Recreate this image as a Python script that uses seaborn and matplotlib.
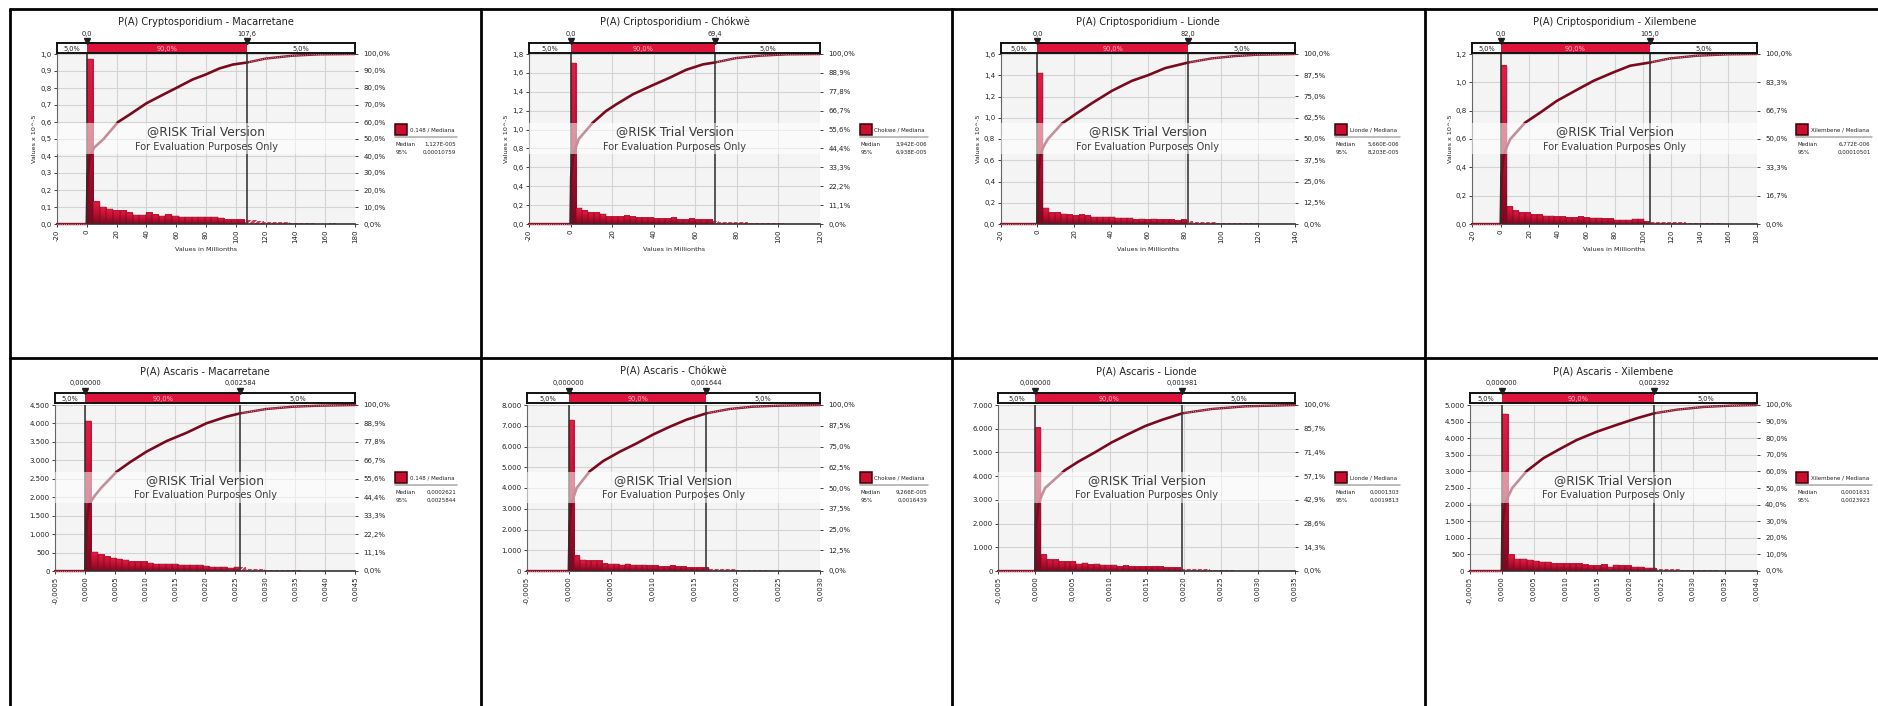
import numpy as np
import pandas as pd
import matplotlib
matplotlib.use("Agg")
import matplotlib.pyplot as plt
import seaborn as sns
from matplotlib.colors import LinearSegmentedColormap
from matplotlib.lines import Line2D
from matplotlib.patches import Rectangle

titles = ["P(A) Cryptosporidium - Macarretane", "P(A) Criptosporidium - Chókwè",
          "P(A) Criptosporidium - Lionde", "P(A) Criptosporidium - Xilembene",
          "P(A) Ascaris - Macarretane", "P(A) Ascaris - Chókwè",
          "P(A) Ascaris - Lionde", "P(A) Ascaris - Xilembene"]
legend_names = ["0.148 / Mediana", "Chokwe / Mediana", "Lionde / Mediana", "Xilembene / Mediana",
                "0.148 / Mediana", "Chokwe / Mediana", "Lionde / Mediana", "Xilembene / Mediana"]
median_text = ["1,127E-005", "3,942E-006", "5,660E-006", "6,772E-006",
               "0,0002621", "9,266E-005", "0,0001303", "0,0001631"]
p95_text = ["0,00010759", "6,938E-005", "8,203E-005", "0,00010501",
            "0,0025844", "0,0016439", "0,0019813", "0,0023923"]
p5_labels = ["0,0", "0,0", "0,0", "0,0", "0,000000", "0,000000", "0,000000", "0,000000"]
p95_labels = ["107,6", "69,4", "82,0", "105,0", "0,002584", "0,001644", "0,001981", "0,002392"]
p5_values = [0, 0, 0, 0, 0, 0, 0, 0]
p95_values = [107.6, 69.4, 82.0, 105.0, 0.0025844, 0.0016439, 0.0019813, 0.0023923]

x_min = [-20, -20, -20, -20, -0.0005, -0.0005, -0.0005, -0.0005]
x_max = [180, 120, 140, 180, 0.0045, 0.003, 0.0035, 0.004]
x_step = [20, 20, 20, 20, 0.0005, 0.0005, 0.0005, 0.0005]
y_max = [1.0, 1.8, 1.6, 1.2, 4500, 8000, 7000, 5000]
y_step = [0.1, 0.2, 0.2, 0.2, 500, 1000, 1000, 500]
bin_width = [4.4, 2.85, 3.26, 4.2, 0.000103, 0.0000668, 0.0000786, 0.0000968]

# Histogrammhöhen (Balken ab 0)
h_crypto_mac = [0.97, 0.13, 0.10, 0.087, 0.077, 0.077, 0.065, 0.052, 0.052, 0.065, 0.053, 0.047, 0.053,
                0.045, 0.039, 0.039, 0.039, 0.039, 0.039, 0.039, 0.034, 0.024, 0.024, 0.024, 0.024, 0.022,
                0.016, 0.012, 0.010, 0.010, 0.009, 0.008, 0.007, 0.005, 0.004, 0.002, 0.002, 0.004, 0.001]
h_crypto_cho = [1.70, 0.167, 0.142, 0.117, 0.117, 0.103, 0.075, 0.075, 0.075, 0.085, 0.075, 0.064, 0.064,
                0.064, 0.053, 0.053, 0.053, 0.064, 0.043, 0.043, 0.053, 0.043, 0.043, 0.043, 0.028, 0.025,
                0.022, 0.020, 0.018, 0.016, 0.015, 0.013, 0.012, 0.010, 0.008, 0.006, 0.005, 0.004, 0.003,
                0.002, 0.002]
h_crypto_lio = [1.42, 0.148, 0.104, 0.104, 0.092, 0.085, 0.076, 0.085, 0.076, 0.063, 0.063, 0.063, 0.063,
                0.054, 0.054, 0.054, 0.041, 0.047, 0.038, 0.047, 0.038, 0.038, 0.038, 0.032, 0.038, 0.025,
                0.020, 0.018, 0.016, 0.015, 0.013, 0.012, 0.010, 0.008, 0.007, 0.006, 0.005, 0.004, 0.003,
                0.002, 0.002]
h_crypto_xil = [1.117, 0.121, 0.095, 0.080, 0.080, 0.064, 0.064, 0.054, 0.054, 0.050, 0.050, 0.043, 0.043,
                0.050, 0.043, 0.040, 0.040, 0.036, 0.036, 0.028, 0.028, 0.028, 0.033, 0.033, 0.017, 0.017,
                0.015, 0.014, 0.013, 0.012, 0.011, 0.010, 0.008, 0.007, 0.006, 0.005, 0.004, 0.003, 0.002,
                0.002]
h_asc_mac = [4065, 515, 434, 388, 352, 325, 298, 244, 244, 244, 208, 181, 181, 181, 181, 154, 154, 154, 154,
             126, 99, 99, 99, 72, 99, 99, 60, 50, 45, 40, 35, 30, 22, 18, 15, 12, 10, 8, 6, 5, 4]
h_asc_cho = [7261, 723, 530, 482, 482, 482, 353, 321, 321, 289, 337, 289, 289, 289, 241, 241, 193, 193, 241,
             193, 193, 145, 145, 145, 145, 110, 100, 90, 80, 75, 65, 55, 45, 35, 30, 25, 18, 14, 10, 7, 5]
h_asc_lio = [6044, 675, 464, 464, 380, 380, 380, 295, 337, 267, 295, 253, 253, 253, 183, 211, 183, 169, 169,
             169, 169, 169, 127, 127, 127, 100, 90, 80, 70, 65, 55, 40, 32, 25, 20, 15, 10, 6]
h_asc_xil = [4719, 482, 361, 361, 331, 301, 271, 271, 211, 211, 211, 211, 211, 181, 151, 151, 181, 120, 171,
             151, 151, 120, 120, 80, 80, 70, 60, 55, 50, 45, 40, 35, 30, 25, 20, 15, 12, 10, 8, 5]

# Kumulative Kurven (x, Anteil)
cdf_x_crypto_mac = [-20, 0, 0.5, 2.0, 5.0, 11.27, 21, 29, 40, 51, 60, 71, 80, 89, 98, 107.6, 120, 138, 156, 180]
cdf_y_crypto_mac = [0, 0, 0.28, 0.40, 0.45, 0.50, 0.60, 0.645, 0.71, 0.76, 0.80, 0.85, 0.88, 0.915, 0.938,
                    0.95, 0.973, 0.99, 0.998, 1.0]
cdf_x_crypto_cho = [-20, 0, 0.3, 1.2, 2.5, 3.942, 10.7, 17.1, 22, 30, 39.6, 47.6, 55.6, 63.7, 69.4, 79.7, 91,
                    104, 120]
cdf_y_crypto_cho = [0, 0, 0.28, 0.40, 0.45, 0.50, 0.596, 0.665, 0.704, 0.763, 0.817, 0.86, 0.907, 0.939, 0.95,
                    0.976, 0.99, 0.998, 1.0]
cdf_x_crypto_lio = [-20, 0, 0.4, 1.5, 3.0, 5.66, 13.2, 20.5, 29.5, 40.4, 51.3, 60.3, 69.4, 82.0, 94.7, 107.4,
                    120, 140]
cdf_y_crypto_lio = [0, 0, 0.28, 0.40, 0.45, 0.50, 0.59, 0.645, 0.71, 0.783, 0.842, 0.876, 0.917, 0.95, 0.974,
                    0.988, 0.996, 1.0]
cdf_x_crypto_xil = [-20, 0, 0.5, 2.0, 4.0, 6.772, 17.1, 27.7, 39.4, 53.5, 65.2, 79.2, 91, 105, 119, 138, 159,
                    180]
cdf_y_crypto_xil = [0, 0, 0.28, 0.40, 0.45, 0.50, 0.596, 0.655, 0.724, 0.789, 0.842, 0.892, 0.931, 0.95, 0.974,
                    0.99, 0.998, 1.0]
cdf_x_asc_mac = [-0.0005, 0, 0.00002, 0.00006, 0.00015, 0.0002621, 0.000522, 0.000744, 0.00102, 0.001356,
                 0.00169, 0.00202, 0.002356, 0.0025844, 0.00302, 0.00347, 0.00391, 0.0045]
cdf_y_asc_mac = [0, 0, 0.28, 0.40, 0.45, 0.50, 0.598, 0.655, 0.719, 0.783, 0.833, 0.89, 0.93, 0.95, 0.976,
                 0.99, 0.996, 1.0]
cdf_x_asc_cho = [-0.0005, 0, 0.00001, 0.00003, 0.00006, 0.00009266, 0.000252, 0.000412, 0.00061, 0.00081,
                 0.00101, 0.00121, 0.001407, 0.0016439, 0.00192, 0.0022, 0.00252, 0.003]
cdf_y_asc_cho = [0, 0, 0.28, 0.40, 0.45, 0.50, 0.602, 0.663, 0.719, 0.769, 0.823, 0.87, 0.912, 0.95, 0.976,
                 0.99, 0.996, 1.0]
cdf_x_asc_lio = [-0.0005, 0, 0.00001, 0.00004, 0.00008, 0.0001303, 0.0004, 0.00058, 0.000804, 0.00103,
                 0.001254, 0.001479, 0.001703, 0.0019813, 0.00238, 0.00283, 0.0035]
cdf_y_asc_lio = [0, 0, 0.28, 0.40, 0.45, 0.50, 0.608, 0.659, 0.715, 0.775, 0.825, 0.873, 0.91, 0.95, 0.976,
                 0.992, 1.0]
cdf_x_asc_xil = [-0.0005, 0, 0.00001, 0.00005, 0.0001, 0.0001631, 0.00039, 0.00065, 0.00091, 0.001174,
                 0.00149, 0.0018, 0.002116, 0.0023923, 0.00275, 0.00316, 0.00358, 0.004]
cdf_y_asc_xil = [0, 0, 0.28, 0.40, 0.45, 0.50, 0.602, 0.679, 0.735, 0.789, 0.839, 0.88, 0.92, 0.95, 0.972,
                 0.988, 0.996, 1.0]

hist_heights = [h_crypto_mac, h_crypto_cho, h_crypto_lio, h_crypto_xil,
                h_asc_mac, h_asc_cho, h_asc_lio, h_asc_xil]
cdf_xs = [cdf_x_crypto_mac, cdf_x_crypto_cho, cdf_x_crypto_lio, cdf_x_crypto_xil,
          cdf_x_asc_mac, cdf_x_asc_cho, cdf_x_asc_lio, cdf_x_asc_xil]
cdf_ys = [cdf_y_crypto_mac, cdf_y_crypto_cho, cdf_y_crypto_lio, cdf_y_crypto_xil,
          cdf_y_asc_mac, cdf_y_asc_cho, cdf_y_asc_lio, cdf_y_asc_xil]

# Layout (Pixel im Bild 1878 x 706)
W, H = 1878, 706
plot_left = [57, 529, 1000.7, 1472.3, 55.3, 527, 998.3, 1470]
plot_right = [355, 820, 1295, 1756.7, 355.3, 820, 1295, 1756.7]
legend_right = [456, 927, 1399, 1870.7, 456, 927, 1399, 1870.7]
row_plot_top = [54, 405]
row_plot_bottom = [224, 571]
row_band_top = [43, 392.7]
row_band_bottom = [53, 403.3]
row_title_y = [22, 372]
row_legend_top = [124, 472.3]

sns.set_theme(style="white")
plt.rcParams["font.family"] = ["DejaVu Sans"]
plt.rcParams["hatch.linewidth"] = 0.7

fig = plt.figure(figsize=(W / 100, H / 100), dpi=100)
fig.patch.set_facecolor("white")

bar_cmap = LinearSegmentedColormap.from_list(
    "risk", [(0, "#7A0921"), (0.45, "#B50F30"), (0.8, "#D8163D"), (1, "#E21E46")])
grad = np.linspace(0, 1, 64).reshape(-1, 1)
text_col = "#222222"


def fig_axes(l, t, r, b):
    return fig.add_axes([l / W, 1 - b / H, (r - l) / W, (b - t) / H])


def komma(v, nd):
    return f"{v:.{nd}f}".replace(".", ",")


def pct(v):
    return komma(v * 100, 1) + "%"


for i in range(8):
    row = i // 4
    top = row == 0
    l, r = plot_left[i], plot_right[i]
    pt, pb = row_plot_top[row], row_plot_bottom[row]
    xmin, xmax, ymax = x_min[i], x_max[i], y_max[i]
    p5, p95 = p5_values[i], p95_values[i]

    ax = fig_axes(l, pt, r, pb)
    ax.set_facecolor("#F4F4F4")
    ax.set_axisbelow(True)
    ax.grid(True, color="#D3D3D3", lw=0.8)

    # Histogramm
    heights = hist_heights[i]
    n_bins = len(heights)
    w = bin_width[i]
    centers = (np.arange(n_bins) + 0.5) * w
    hist_df = pd.DataFrame({"wert": centers, "hoehe": heights})
    sns.histplot(data=hist_df, x="wert", weights="hoehe", bins=n_bins, binrange=(0, n_bins * w),
                 ax=ax, stat="count", color="#D0143A", edgecolor="none", linewidth=0, alpha=1)
    for patch in list(ax.patches):
        x0, bw, h = patch.get_x(), patch.get_width(), patch.get_height()
        if h <= 0:
            continue
        if x0 + bw / 2 > p95:
            patch.set_facecolor("#D23A56")
            patch.set_edgecolor("white")
            patch.set_hatch("//////")
            patch.set_linewidth(0)
        else:
            patch.set_facecolor("none")
            patch.set_edgecolor("#7A0A20")
            patch.set_linewidth(0.3)
            patch.set_zorder(3)
            ax.imshow(grad, cmap=bar_cmap, origin="lower", extent=(x0, x0 + bw, 0, h),
                      aspect="auto", zorder=2, interpolation="bilinear")

    n_y = int(round(ymax / y_step[i]))
    yticks = np.linspace(0, ymax, n_y + 1)
    n_x = int(round((xmax - xmin) / x_step[i]))
    xticks = np.linspace(xmin, xmax, n_x + 1)
    ax.set_xlim(xmin, xmax)
    ax.set_ylim(0, ymax)
    ax.set_yticks(yticks)
    ax.set_xticks(xticks)
    if top:
        ax.set_yticklabels([komma(v, 1) for v in yticks])
        ax.set_xticklabels([f"{int(round(v))}" for v in xticks], rotation=90)
        ax.set_ylabel("Values x 10^-5", fontsize=4.6, color=text_col, labelpad=2)
        ax.set_xlabel("Values in Millionths", fontsize=4.6, color=text_col, labelpad=3)
    else:
        ax.set_yticklabels([f"{v:,.0f}".replace(",", ".") for v in yticks])
        ax.set_xticklabels([komma(round(v, 8) + 0.0, 4) for v in xticks], rotation=90)
        ax.set_ylabel("")
        ax.set_xlabel("")
    ax.tick_params(axis="both", labelsize=5, length=2.5, width=0.6, pad=1.5,
                   left=True, bottom=True, colors=text_col)
    for side in ["top", "right"]:
        ax.spines[side].set_visible(False)
    ax.spines["left"].set_color("#666666")
    ax.spines["left"].set_linewidth(0.8)
    ax.spines["bottom"].set_color("#333333")
    ax.spines["bottom"].set_linewidth(1.2)

    # Kumulative Kurve auf der rechten Achse
    ax2 = ax.twinx()
    cx = np.array(cdf_xs[i])
    cy = np.array(cdf_ys[i])
    mid = (cx >= p5) & (cx <= p95)
    upper = cx >= p95
    lower = cx <= p5
    for mask in [lower, upper]:
        sns.lineplot(x=cx[mask], y=cy[mask], ax=ax2, color="#86162C", linewidth=1.7,
                     estimator=None, sort=False, legend=False, clip_on=False, zorder=3)
        sns.lineplot(x=cx[mask], y=cy[mask], ax=ax2, color="#F2C4CC", linewidth=0.6,
                     estimator=None, sort=False, legend=False, clip_on=False, zorder=3)
        ax2.lines[-1].set_dashes((1.0, 1.6))
    sns.lineplot(x=cx[mid], y=cy[mid], ax=ax2, color="#7A0A20", linewidth=1.9,
                 estimator=None, sort=False, legend=False, zorder=3)
    ax2.axvline(p5, color="#2E2E2E", lw=1.1, zorder=4)
    ax2.axvline(p95, color="#3A3A3A", lw=1.2, zorder=4)
    ax2.axhspan(0.41, 0.595, color="white", alpha=0.55, lw=0, zorder=5)
    ax2.text(0.5, 0.545, "@RISK Trial Version", transform=ax2.transAxes, ha="center", va="center",
             fontsize=8.8, color="#3C3C3C", zorder=6)
    ax2.text(0.5, 0.455, "For Evaluation Purposes Only", transform=ax2.transAxes, ha="center",
             va="center", fontsize=7, color="#3C3C3C", zorder=6)
    ax2.set_ylim(0, 1)
    ax2.set_xlim(xmin, xmax)
    ax2.set_yticks(yticks / ymax)
    ax2.set_yticklabels([pct(v) for v in yticks / ymax])
    ax2.tick_params(axis="y", right=True, labelsize=5, length=2, width=0.6, pad=4, colors=text_col)
    ax2.set_ylabel("")
    ax2.set_xlabel("")
    for s in ax2.spines.values():
        s.set_visible(False)

    # Band mit 5% / 90% / 5%
    bax = fig_axes(l, row_band_top[row], r, row_band_bottom[row])
    bax.set_xlim(xmin, xmax)
    bax.set_ylim(0, 1)
    bax.set_facecolor("white")
    bax.axvspan(p5, p95, color="#DC143C", lw=0)
    bax.set_xticks([])
    bax.set_yticks([])
    for s in bax.spines.values():
        s.set_color("#111111")
        s.set_linewidth(1.4)
    bax.text((xmin + p5) / 2, 0.45, "5,0%", ha="center", va="center", fontsize=4.8, color=text_col)
    bax.text((p5 + p95) / 2, 0.45, "90,0%", ha="center", va="center", fontsize=4.8, color="#F6BCC7")
    bax.text((p95 + xmax) / 2, 0.45, "5,0%", ha="center", va="center", fontsize=4.8, color=text_col)
    bax.plot([p5, p95], [1.2, 1.2], marker="v", ls="none", color="#1E1E1E", ms=4.5, clip_on=False, zorder=10)
    for pv, lab in [(p5, p5_labels[i]), (p95, p95_labels[i])]:
        bax.annotate(lab, (pv, 1), xytext=(0, 4.5), textcoords="offset points", ha="center",
                     va="bottom", fontsize=4.8, color=text_col, annotation_clip=False)

    # Titel
    fig.text((l + r) / 2 / W, 1 - row_title_y[row] / H, titles[i], ha="center", va="center",
             fontsize=7, color=text_col)

    # Legende
    lx = r + 39.5
    ly = row_legend_top[row]
    fig.add_artist(Rectangle((lx / W, 1 - (ly + 11) / H), 12 / W, 11 / H, transform=fig.transFigure,
                             facecolor="#C8102E", edgecolor="#3A0008", lw=1.1))
    fig.text((lx + 15) / W, 1 - (ly + 5.5) / H, legend_names[i], ha="left", va="center",
             fontsize=4, color=text_col)
    fig.add_artist(Line2D([lx / W, (legend_right[i] + 1) / W], [1 - (ly + 13) / H] * 2,
                          transform=fig.transFigure, color="#AAAAAA", lw=1.1))
    fig.text((lx + 1) / W, 1 - (ly + 20) / H, "Median", ha="left", va="center", fontsize=4, color=text_col)
    fig.text((lx + 1) / W, 1 - (ly + 28) / H, "95%", ha="left", va="center", fontsize=4, color=text_col)
    fig.text(legend_right[i] / W, 1 - (ly + 20) / H, median_text[i], ha="right", va="center",
             fontsize=4, color=text_col)
    fig.text(legend_right[i] / W, 1 - (ly + 28) / H, p95_text[i], ha="right", va="center",
             fontsize=4, color=text_col)


# Zellrahmen
def border(xs, ys):
    fig.add_artist(Line2D([x / W for x in xs], [1 - y / H for y in ys], transform=fig.transFigure,
                          color="black", lw=2.0))


border([10, 1878], [9, 9])
border([10, 1878], [358, 358])
for bx in [10, 481, 952, 1425]:
    border([bx, bx], [9, 706])

fig.savefig("out.png", dpi=100)
